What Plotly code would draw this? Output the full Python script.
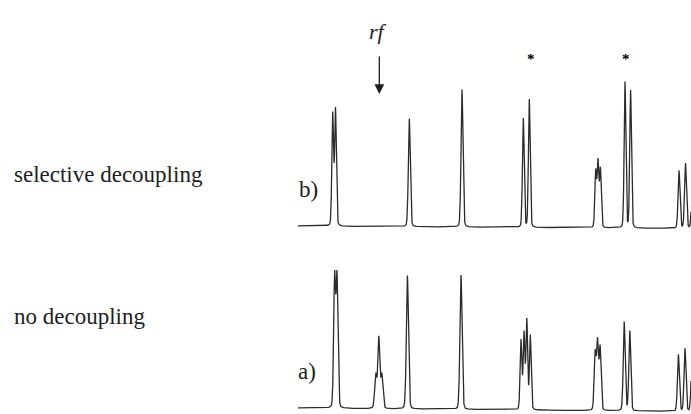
import numpy as np
import plotly.graph_objects as go

# ---- data (x in spectrum position units, heights in intensity units) ----
x_start, x_end = 298.0, 691.0

# b) selective decoupling
b_pos = [332.7, 335.5, 409.3, 462.0, 523.3, 529.3, 595.7, 598.0, 600.4,
         625.0, 630.6, 679.0, 685.5, 692.5]
b_top = [114.8, 119.2, 108.0, 137.5, 109.5, 128.5, 59.5, 70.0, 61.0,
         146.5, 138.2, 58.0, 65.5, 55.0]
b_width = [0.9, 0.9, 1.0, 1.0, 0.9, 0.9, 0.9, 0.9, 0.9,
           0.9, 0.9, 1.0, 1.0, 1.0]
b_base = [188.0, 185.5]   # baseline level at x_start, x_end

# a) no decoupling
a_pos = [334.6, 337.0, 375.8, 378.8, 381.8, 407.4, 461.0, 521.0, 524.0,
         526.8, 530.3, 595.1, 597.5, 600.1, 624.2, 629.8, 678.4, 685.0, 692.0]
a_top = [137.5, 137.5, 36.0, 73.0, 36.0, 133.5, 134.5, 71.0, 79.5,
         92.0, 75.5, 61.0, 73.5, 66.0, 89.5, 80.5, 57.0, 63.5, 55.0]
a_width = [1.0, 1.0, 1.15, 1.0, 1.15, 1.1, 1.1, 0.9, 0.9,
           0.9, 0.9, 1.0, 1.0, 1.0, 1.0, 1.0, 1.0, 1.0, 1.0]
a_base = [6.0, 2.5]

star_pos = [530.7, 626.0]
rf_pos = 379.3

row_labels = ["selective decoupling", "no decoupling"]
trace_tags = ["b)", "a)"]

ETA = 0.25  # Lorentzian fraction of the line shape


def shape(d, w):
    g = np.exp(-0.5 * (d / w) ** 2)
    l = 1.0 / (1.0 + (d / (0.8 * w)) ** 2)
    return (1 - ETA) * g + ETA * l


def spectrum(pos, top, wid, base):
    pos = np.array(pos); top = np.array(top); wid = np.array(wid)
    M = shape(pos[:, None] - pos[None, :], wid[None, :])
    amp = np.linalg.solve(M, top)
    x = np.arange(x_start, x_end + 0.001, 0.1)
    y = np.interp(x, [x_start, x_end], base)
    for p, a, w in zip(pos, amp, wid):
        y = y + a * shape(x - p, w)
    return x, y


xb, yb = spectrum(b_pos, b_top, b_width, b_base)
xa, ya = spectrum(a_pos, a_top, a_width, a_base)

fig = go.Figure()
line = dict(color="#2b2b2b", width=1.3)
fig.add_trace(go.Scatter(x=xb, y=yb, mode="lines", line=line, hoverinfo="skip"))
fig.add_trace(go.Scatter(x=xa, y=ya, mode="lines", line=line, hoverinfo="skip"))

serif = "'Liberation Serif', 'Times New Roman', Times, 'DejaVu Serif', serif"
ink = "#1e1e1e"
ann = []
ann.append(dict(x=12, y=414 - 174, text=row_labels[0], xanchor="left", yanchor="middle",
                showarrow=False, font=dict(family=serif, size=23, color=ink)))
ann.append(dict(x=12, y=414 - 316, text=row_labels[1], xanchor="left", yanchor="middle",
                showarrow=False, font=dict(family=serif, size=23, color=ink)))
ann.append(dict(x=308, y=414 - 189, text=trace_tags[0], xanchor="center", yanchor="middle",
                showarrow=False, font=dict(family=serif, size=23, color=ink)))
ann.append(dict(x=307, y=414 - 371, text=trace_tags[1], xanchor="center", yanchor="middle",
                showarrow=False, font=dict(family=serif, size=23, color=ink)))
ann.append(dict(x=rf_pos - 1, y=414 - 31, text="<i>rf</i>", xanchor="center", yanchor="middle",
                showarrow=False, font=dict(family=serif, size=22, color=ink)))
for sp in star_pos:
    ann.append(dict(x=sp, y=414 - 59, text="<b>*</b>", xanchor="center", yanchor="middle",
                    showarrow=False, font=dict(family=serif, size=15, color="#000000")))
ann.append(dict(x=rf_pos, y=414 - 94, ax=0, ay=-39, text="", showarrow=True,
                arrowhead=2, arrowsize=1.5, arrowwidth=1.3, arrowcolor=ink,
                xref="x", yref="y"))

fig.update_layout(
    width=691, height=414,
    margin=dict(l=0, r=0, t=0, b=0),
    paper_bgcolor="white", plot_bgcolor="white",
    showlegend=False,
    font=dict(family=serif),
    xaxis=dict(range=[0, 691], visible=False, fixedrange=True),
    yaxis=dict(range=[0, 414], visible=False, fixedrange=True),
    annotations=ann,
)
fig.write_html("out.html")
